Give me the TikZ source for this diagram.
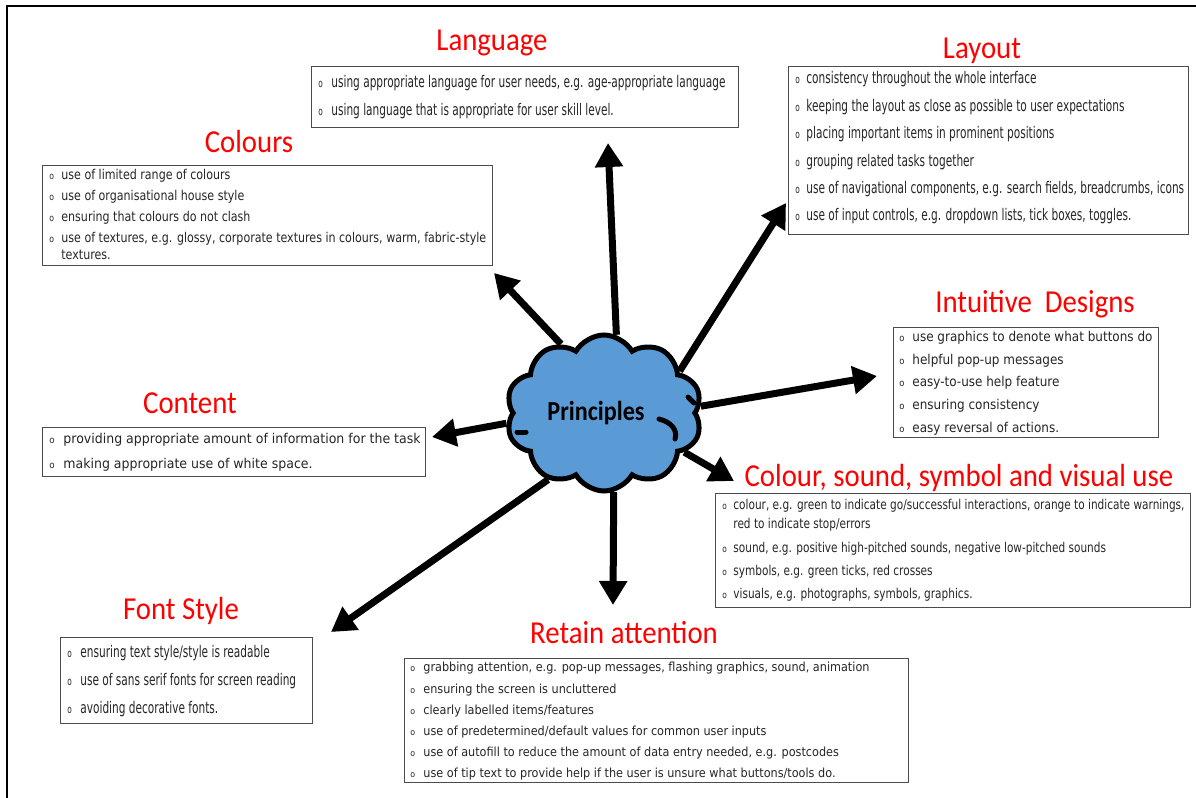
\documentclass[tikz,border=0pt]{standalone}
\usepackage{fontspec}
\usepackage{graphicx}
\usetikzlibrary{shapes.symbols,arrows.meta}
\newfontfamily\titlefont{Carlito}[FakeStretch=0.9]
\newfontfamily\cloudfont{Carlito}[FakeStretch=0.88]
\newfontfamily\fA{DejaVu Sans}[FakeStretch=0.66]
\newfontfamily\fB{DejaVu Sans}[FakeStretch=0.82]
\newfontfamily\fC{DejaVu Sans}[FakeStretch=0.89]
\newfontfamily\fD{DejaVu Sans}[FakeStretch=0.93]
\newfontfamily\fE{DejaVu Sans}[FakeStretch=0.78]
\newfontfamily\fF{DejaVu Sans}[FakeStretch=0.9]
\definecolor{cloudblue}{HTML}{5B9BD5}
\definecolor{titlered}{HTML}{FF0000}
\newcommand\bul[1]{\makebox[#1][l]{\scalebox{0.7}{o}}}
\tikzset{
  item/.style={anchor=west, inner sep=0pt, text height=1.45ex, text depth=0.25ex, text=black!85},
  sA/.style={item, font=\fA\fontsize{8pt}{9.6pt}\selectfont},
  sB/.style={item, font=\fB\fontsize{6.75pt}{8pt}\selectfont},
  sC/.style={item, font=\fC\fontsize{6.75pt}{8pt}\selectfont},
  sD/.style={item, font=\fD\fontsize{6.75pt}{8pt}\selectfont},
  sE/.style={item, font=\fE\fontsize{6.75pt}{8pt}\selectfont},
  sF/.style={item, font=\fF\fontsize{6.25pt}{7.5pt}\selectfont},
  ttl/.style={anchor=base, inner sep=0pt, text=titlered, font=\titlefont\fontsize{16pt}{18pt}\selectfont},
  listbox/.style={draw=black!70, line width=0.65pt, anchor=north west, inner sep=0pt},
  arr/.style={line width=3.5pt, -{Triangle[length=12pt,width=13.5pt]}},
  cloudline/.style={line width=2.5pt, line cap=round}
}
\begin{document}
\begin{tikzpicture}[x=0.5pt,y=-0.5pt]
\useasboundingbox (0,0) rectangle (1196,798);
\fill[white] (0,0) rectangle (1196,798);
% frame
\draw[line width=0.9pt] (7,798) -- (7,6) -- (1196,6);

% boxes
\node[listbox, minimum width=213.5pt, minimum height=30.5pt] (langbox) at (311,66) {};
\node[listbox, minimum width=200pt, minimum height=84pt] (laybox) at (788,66) {};
\node[listbox, minimum width=225pt, minimum height=50pt] (colbox) at (42,165) {};
\node[listbox, minimum width=132.5pt, minimum height=55pt] (intbox) at (893,327) {};
\node[listbox, minimum width=191.5pt, minimum height=24.5pt] (conbox) at (42,427) {};
\node[listbox, minimum width=237.5pt, minimum height=57pt] (csbox) at (715,493) {};
\node[listbox, minimum width=126pt, minimum height=43pt] (fontbox) at (60,637) {};
\node[listbox, minimum width=252pt, minimum height=62pt] (retbox) at (404,658) {};

% titles
\node[ttl] (langt) at (492,50) {Language};
\node[ttl] (layt) at (982,58) {Layout};
\node[ttl] (colt) at (249,152) {Colours};
\node[ttl] (intt) at (1035,312) {Intuitive\ \ Designs};
\node[ttl] (cont) at (190,413) {Content};
\node[ttl] (cst) at (959,486) {Colour, sound, symbol and visual use};
\node[ttl] (fontt) at (181,619) {Font Style};
\node[ttl] (rett) at (624,643) {Retain attention};

% Language
\node[sA] (lang1) at (318,82) {\bul{6.5pt}using appropriate language for user needs, e.g. age-appropriate language};
\node[sA] (lang2) at (318,110) {\bul{6.5pt}using language that is appropriate for user skill level.};

% Layout
\node[sA] (lay1) at (795,78) {\bul{5.5pt}consistency throughout the whole interface};
\node[sA] (lay2) at (795,106) {\bul{5.5pt}keeping the layout as close as possible to user expectations};
\node[sA] (lay3) at (795,133) {\bul{5.5pt}placing important items in prominent positions};
\node[sA] (lay4) at (795,161) {\bul{5.5pt}grouping related tasks together};
\node[sA] (lay5) at (795,188) {\bul{5.5pt}use of navigational components, e.g. search fields, breadcrumbs, icons};
\node[sA] (lay6) at (795,215) {\bul{5.5pt}use of input controls, e.g. dropdown lists, tick boxes, toggles.};

% Colours
\node[sB] (col1) at (49,174) {\bul{6pt}use of limited range of colours};
\node[sB] (col2) at (49,195) {\bul{6pt}use of organisational house style};
\node[sB] (col3) at (49,216) {\bul{6pt}ensuring that colours do not clash};
\node[sB] (col4) at (49,237) {\bul{6pt}use of textures, e.g. glossy, corporate textures in colours, warm, fabric-style};
\node[sB] (col5) at (61,254) {textures.};

% Intuitive designs
\node[sC] (int1) at (899,336) {\bul{6.5pt}use graphics to denote what buttons do};
\node[sC] (int2) at (899,359) {\bul{6.5pt}helpful pop-up messages};
\node[sC] (int3) at (899,381) {\bul{6.5pt}easy-to-use help feature};
\node[sC] (int4) at (899,404) {\bul{6.5pt}ensuring consistency};
\node[sC] (int5) at (899,427) {\bul{6.5pt}easy reversal of actions.};

% Content
\node[sD] (con1) at (49,438) {\bul{7pt}providing appropriate amount of information for the task};
\node[sD] (con2) at (49,463) {\bul{7pt}making appropriate use of white space.};

% Colour, sound, symbol and visual use
\node[sE] (cs1) at (722,504) {\bul{5.5pt}colour, e.g. green to indicate go/successful interactions, orange to indicate warnings,};
\node[sE] (cs1b) at (733,523) {red to indicate stop/errors};
\node[sE] (cs2) at (722,547) {\bul{5.5pt}sound, e.g. positive high-pitched sounds, negative low-pitched sounds};
\node[sE] (cs3) at (722,570) {\bul{5.5pt}symbols, e.g. green ticks, red crosses};
\node[sE] (cs4) at (722,593) {\bul{5.5pt}visuals, e.g. photographs, symbols, graphics.};

% Font style
\node[sA] (fs1) at (67,652) {\bul{6.5pt}ensuring text style/style is readable};
\node[sA] (fs2) at (67,680) {\bul{6.5pt}use of sans serif fonts for screen reading};
\node[sA] (fs3) at (67,708) {\bul{6.5pt}avoiding decorative fonts.};

% Retain attention
\node[sF] (ret1) at (410,666) {\bul{6.5pt}grabbing attention, e.g. pop-up messages, flashing graphics, sound, animation};
\node[sF] (ret2) at (410,688) {\bul{6.5pt}ensuring the screen is uncluttered};
\node[sF] (ret3) at (410,709) {\bul{6.5pt}clearly labelled items/features};
\node[sF] (ret4) at (410,730) {\bul{6.5pt}use of predetermined/default values for common user inputs};
\node[sF] (ret5) at (410,751) {\bul{6.5pt}use of autofill to reduce the amount of data entry needed, e.g. postcodes};
\node[sF] (ret6) at (410,772) {\bul{6.5pt}use of tip text to provide help if the user is unsure what buttons/tools do.};

% cloud
\node[cloud, cloud puffs=10, cloud puff arc=120, aspect=1.3, draw=black, fill=cloudblue,
      line width=2.5pt, minimum width=98pt, minimum height=78pt, inner sep=0pt] (cloud) at (604,413) {};
\draw[cloudline] (659,419) .. controls (671,422) and (678,430) .. (675,439);
\draw[cloudline] (517,432) -- (526,432);
\draw[cloudline] (688,397) -- (694,403);
\node[inner sep=0pt, font=\cloudfont\bfseries\fontsize{13.75pt}{15pt}\selectfont] (ptext) at (596,413) {Principles};

% arrow tips
\coordinate (tLang) at (608,143);
\coordinate (tCol) at (494,273);
\coordinate (tLay) at (786,203);
\coordinate (tInt) at (877,376);
\coordinate (tCS) at (734,481);
\coordinate (tRet) at (613,605);
\coordinate (tFont) at (331,632);
\coordinate (tCon) at (432,437);

\draw[arr] (cloud.81) -- (tLang);
\draw[arr] (cloud.122) -- (tCol);
\draw[arr] (cloud.29) -- (tLay);
\draw[arr] (cloud.4) -- (tInt);
\draw[arr] (cloud.334) -- (tCS);
\draw[arr] (cloud.277) -- (tRet);
\draw[arr] (cloud.230) -- (tFont);
\draw[arr] (cloud.186) -- (tCon);
\end{tikzpicture}
\end{document}
